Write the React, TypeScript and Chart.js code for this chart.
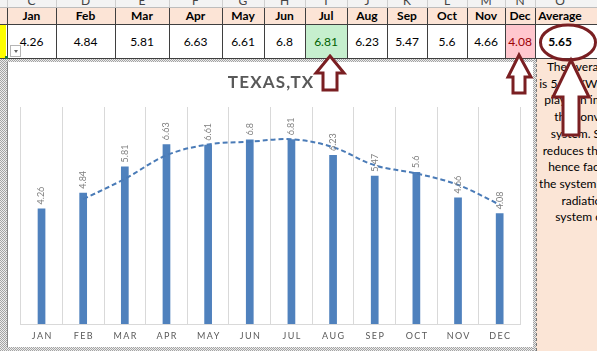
import React, { useEffect, useRef } from "react";
import { Chart, registerables } from "chart.js";

Chart.register(...registerables);

// ---------------- data ----------------
const monthHeaders = ["Jan", "Feb", "Mar", "Apr", "May", "Jun", "Jul", "Aug", "Sep", "Oct", "Nov", "Dec"];
const axisLabels = ["JAN", "FEB", "MAR", "APR", "MAY", "JUN", "JUL", "AUG", "SEP", "OCT", "NOV", "DEC"];
const radiation = [4.26, 4.84, 5.81, 6.63, 6.61, 6.8, 6.81, 6.23, 5.47, 5.6, 4.66, 4.08];
const movingAverage = [null, 4.6, 5.35, 6.22, 6.62, 6.72, 6.81, 6.52, 5.85, 5.55, 5.13, 4.4];
const averageLabel = "Average";
const averageValue = "5.65";
const columnLetters = ["C", "D", "E", "F", "G", "H", "I", "J", "K", "L", "M", "N", "O"];
const chartTitle = "TEXAS,TX";
const noteLines = [
  "The average solar",
  "is 5.65 KWh/m\u00b2/day",
  "plays an important",
  "the conversion",
  "system. Shading",
  "reduces the energy",
  "hence facilitating",
  "the system to obtain",
  "radiation on",
  "system output",
];

// ---------------- layout ----------------
const FONT = "Lato, 'Open Sans', sans-serif";
const colEdges = [7, 56, 115, 169, 222, 264, 305, 347, 387, 427, 467, 505, 535, 585];
const MAROON = "#7a1f22";
const checker = "repeating-conic-gradient(#a3a3a3 0% 25%, #ececec 0% 50%) 0 0 / 2px 2px";

function arrowPoints(tipX: number, tipY: number, headL: number, headR: number, baseY: number, shaftL: number, shaftR: number, botY: number) {
  return [
    [tipX, tipY],
    [headR, baseY],
    [shaftR, baseY],
    [shaftR, botY],
    [shaftL, botY],
    [shaftL, baseY],
    [headL, baseY],
  ]
    .map((p) => p.join(","))
    .join(" ");
}

export default function App() {
  const canvasRef = useRef<HTMLCanvasElement | null>(null);

  useEffect(() => {
    const canvas = canvasRef.current;
    if (!canvas) return;

    const tickPlugin = {
      id: "tickLabels",
      afterDraw(chart: any) {
        const ctx = chart.ctx;
        const xs = chart.scales.x;
        ctx.save();
        ctx.font = `9px ${FONT}`;
        ctx.letterSpacing = "1.4px";
        ctx.fillStyle = "#595959";
        ctx.textAlign = "center";
        ctx.textBaseline = "middle";
        axisLabels.forEach((lab, i) => {
          ctx.fillText(lab, xs.getPixelForTick(i) + 0.7, 274);
        });
        ctx.restore();
      },
    };

    const labelPlugin = {
      id: "barLabels",
      afterDatasetsDraw(chart: any) {
        const ctx = chart.ctx;
        const meta = chart.getDatasetMeta(1);
        meta.data.forEach((bar: any, i: number) => {
          ctx.save();
          ctx.font = `9px ${FONT}`;
          ctx.fillStyle = "#7f7f7f";
          ctx.translate(bar.x, bar.y - 4);
          ctx.rotate(-Math.PI / 2);
          ctx.textAlign = "left";
          ctx.textBaseline = "middle";
          ctx.fillText(String(radiation[i]), 0, 0);
          ctx.restore();
        });
      },
    };

    const titlePlugin = {
      id: "customTitle",
      afterDraw(chart: any) {
        const ctx = chart.ctx;
        ctx.save();
        ctx.font = `bold 17px ${FONT}`;
        ctx.letterSpacing = "1.2px";
        ctx.fillStyle = "#595959";
        ctx.textAlign = "center";
        ctx.textBaseline = "middle";
        ctx.fillText(chartTitle, chart.width / 2 + 0.6, 21);
        ctx.restore();
      },
    };

    const chart = new Chart(canvas, {
      data: {
        labels: axisLabels,
        datasets: [
          {
            type: "line",
            data: movingAverage as any,
            borderColor: "#4a7bb7",
            borderWidth: 2,
            borderDash: [5, 3],
            pointRadius: 0,
            tension: 0.35,
            fill: false,
            order: 0,
          },
          {
            type: "bar",
            data: radiation,
            backgroundColor: "#4f81bd",
            barPercentage: 0.185,
            categoryPercentage: 1,
            order: 1,
          },
        ],
      },
      options: {
        animation: false,
        responsive: false,
        maintainAspectRatio: false,
        layout: { padding: { left: 12.7, right: 12.5, top: 45, bottom: 0 } },
        plugins: {
          legend: { display: false },
          tooltip: { enabled: false },
          title: { display: false },
        },
        scales: {
          x: {
            grid: { color: "#d9d9d9", offset: true, drawTicks: false },
            border: { color: "#d9d9d9" },
            ticks: { display: false },
            afterFit: (scale: any) => {
              scale.height = 23;
            },
          },
          y: { display: false, min: 0, max: 8 },
        },
      },
      plugins: [labelPlugin, tickPlugin, titlePlugin],
    } as any);

    return () => chart.destroy();
  }, []);

  const cells = [];
  for (let i = 0; i < colEdges.length - 1; i++) {
    const left = colEdges[i];
    const width = colEdges[i + 1] - colEdges[i];
    const isAvg = i === 12;
    const header = isAvg ? averageLabel : monthHeaders[i];
    const value = isAvg ? averageValue : String(radiation[i]);
    let bg = "#ffffff";
    let color = "#000000";
    if (i === 6) {
      bg = "#c6efce";
      color = "#006100";
    } else if (i === 11) {
      bg = "#ffc7ce";
      color = "#9c0006";
    }
    cells.push(
      <div key={"l" + i} style={{ position: "absolute", left, top: -6, width, height: 13, textAlign: "center", font: `12px ${FONT}`, color: "#444", lineHeight: "13px" }}>
        {columnLetters[i]}
      </div>
    );
    cells.push(
      <div key={"h" + i} style={{ position: "absolute", left, top: 8, width: isAvg ? 50 : width, height: 16, textAlign: "center", font: `bold 12px ${FONT}`, color: "#000", lineHeight: "16px" }}>
        {header}
      </div>
    );
    cells.push(
      <div key={"v" + i} style={{ position: "absolute", left, top: 24, width: isAvg ? 50 : width, height: 34, background: isAvg ? "#fff" : bg, textAlign: "center", font: `${isAvg ? "bold " : ""}12px ${FONT}`, color, lineHeight: "35px" }}>
        {value}
      </div>
    );
  }

  const vLines = colEdges.slice(0, 13).map((x, i) => (
    <div key={"vl" + i} style={{ position: "absolute", left: x, top: 8, width: 1, height: 50, background: "#3f3f3f" }} />
  ));
  const letterLines = colEdges.slice(0, 13).map((x, i) => (
    <div key={"ll" + i} style={{ position: "absolute", left: x, top: 0, width: 1, height: 8, background: "#cfcfcf" }} />
  ));

  return (
    <div style={{ position: "fixed", left: 0, top: 0, width: 597, height: 351, overflow: "hidden", background: "#ffffff" }}>
      {/* column letter row */}
      <div style={{ position: "absolute", left: 0, top: 0, width: 597, height: 8, background: "#f3f3f3" }} />
      {/* header row */}
      <div style={{ position: "absolute", left: 0, top: 8, width: 597, height: 16, background: "#fce4d6" }} />
      {/* yellow cell */}
      <div style={{ position: "absolute", left: 0, top: 24, width: 6, height: 34, background: "#ffff00" }} />
      {cells}
      {letterLines}
      {vLines}
      <div style={{ position: "absolute", left: 0, top: 7, width: 597, height: 1, background: "#bdbdbd" }} />
      <div style={{ position: "absolute", left: 0, top: 24, width: 597, height: 1, background: "#3f3f3f" }} />
      <div style={{ position: "absolute", left: 0, top: 58, width: 597, height: 1, background: "#3f3f3f" }} />
      {/* dropdown button */}
      <div style={{ position: "absolute", left: 10, top: 45, width: 11, height: 12, background: "#fff", border: "1px solid #b5b5b5", boxSizing: "border-box" }}>
        <div style={{ position: "absolute", left: 3, top: 4, width: 0, height: 0, borderLeft: "2.5px solid transparent", borderRight: "2.5px solid transparent", borderTop: "3px solid #666" }} />
      </div>
      <div style={{ position: "absolute", left: 5, top: 56, width: 3, height: 3, background: "#217346" }} />

      {/* chart selection frame */}
      <div style={{ position: "absolute", left: 0, top: 59, width: 536, height: 3, background: checker }} />
      <div style={{ position: "absolute", left: 0, top: 59, width: 7, height: 292, background: checker }} />
      <div style={{ position: "absolute", left: 0, top: 347, width: 536, height: 4, background: checker }} />
      <div style={{ position: "absolute", left: 7, top: 62, width: 1, height: 285, background: "#8a8a8a" }} />

      <canvas ref={canvasRef} width={525} height={285} style={{ position: "absolute", left: 8, top: 62, width: 525, height: 285, background: "#fff" }} />

      {/* text box */}
      <div style={{ position: "absolute", left: 533, top: 59, width: 3, height: 292, background: checker }} />
      <div style={{ position: "absolute", left: 536, top: 59, width: 120, height: 292, background: "#fbe5d6", borderLeft: "1px dashed #777", boxSizing: "border-box" }}>
        <div style={{ position: "absolute", left: 0, top: 0, width: 112, textAlign: "center", font: `12px ${FONT}`, lineHeight: "16.7px", color: "#000", whiteSpace: "nowrap" }}>
          {noteLines.map((t, i) => (
            <div key={i}>{t}</div>
          ))}
        </div>
      </div>

      {/* annotations */}
      <svg width={597} height={351} style={{ position: "absolute", left: 0, top: 0 }}>
        <ellipse cx={568} cy={42.5} rx={27.5} ry={17.5} fill="none" stroke={MAROON} strokeWidth={3} />
        <polygon points={arrowPoints(330, 56, 316, 344, 73, 323, 337, 90)} fill="#fff" stroke={MAROON} strokeWidth={3} strokeLinejoin="miter" />
        <polygon points={arrowPoints(519, 55, 508, 531, 77, 513, 525, 93)} fill="#fff" stroke={MAROON} strokeWidth={3} strokeLinejoin="miter" />
        <polygon points={arrowPoints(571, 60, 553, 589, 97, 563, 579, 135)} fill="#fff" stroke={MAROON} strokeWidth={3} strokeLinejoin="miter" />
      </svg>
    </div>
  );
}
